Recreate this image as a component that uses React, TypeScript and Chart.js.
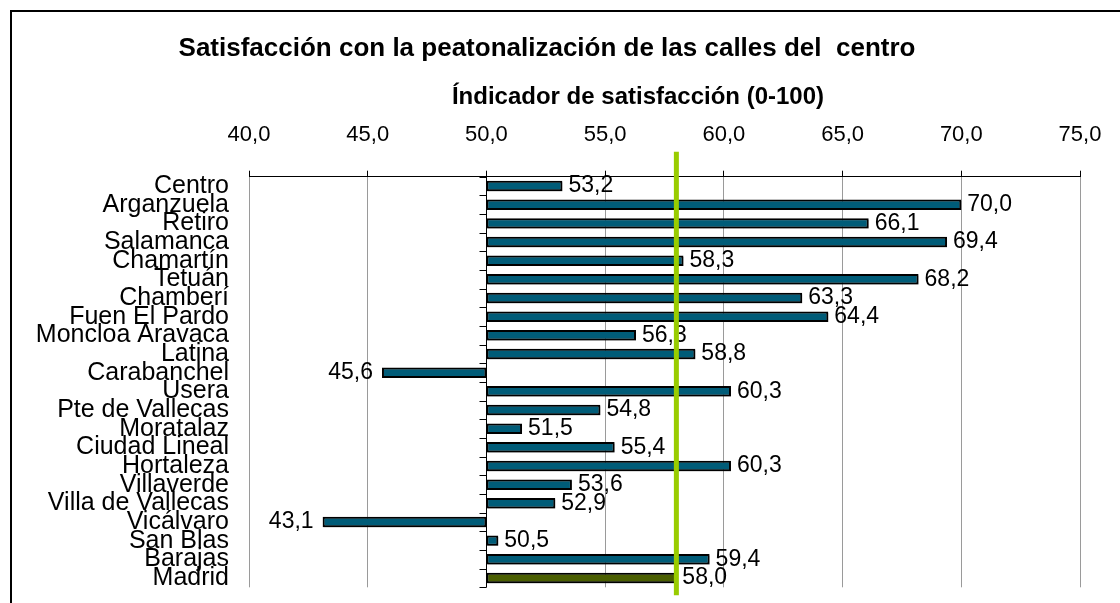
import React, { useEffect, useRef } from "react";
import { Chart, registerables } from "chart.js";

Chart.register(...registerables);

// ---- Data ----
const districts: string[] = [
  "Centro",
  "Arganzuela",
  "Retiro",
  "Salamanca",
  "Chamartín",
  "Tetuán",
  "Chamberí",
  "Fuen El Pardo",
  "Moncloa Aravaca",
  "Latina",
  "Carabanchel",
  "Usera",
  "Pte de Vallecas",
  "Moratalaz",
  "Ciudad Lineal",
  "Hortaleza",
  "Villaverde",
  "Villa de Vallecas",
  "Vicálvaro",
  "San Blas",
  "Barajas",
  "Madrid",
];

const satisfaction: number[] = [
  53.2, 70.0, 66.1, 69.4, 58.3, 68.2, 63.3, 64.4, 56.3, 58.8, 45.6, 60.3, 54.8,
  51.5, 55.4, 60.3, 53.6, 52.9, 43.1, 50.5, 59.4, 58.0,
];

const axisBase = 50;
const xTicks: number[] = [40, 45, 50, 55, 60, 65, 70, 75];
const referenceLabel = "Madrid";

const titleText = "Satisfacción con la peatonalización de las calles del  centro";
const subtitleText = "Índicador de satisfacción (0-100)";

const FONT = "'Liberation Sans', Arial, Helvetica, sans-serif";
const fmt = (v: number) => v.toFixed(1).replace(".", ",");

const districtColor = "#005C78";
const madridColor = "#4A5E00";
const averageColor = "#99CC00";

export default function App() {
  const canvasRef = useRef<HTMLCanvasElement | null>(null);

  useEffect(() => {
    const canvas = canvasRef.current;
    if (!canvas) return;

    const refIndex = districts.indexOf(referenceLabel);
    const averageValue = satisfaction[refIndex];

    const customPlugin = {
      id: "customDraw",
      beforeDatasetsDraw(chart: any) {
        const { ctx, chartArea, scales } = chart;
        const xx = Math.round(scales.x.getPixelForValue(axisBase)) + 0.5;
        ctx.save();
        ctx.strokeStyle = "#000";
        ctx.lineWidth = 1;
        ctx.beginPath();
        ctx.moveTo(xx, chartArea.top);
        ctx.lineTo(xx, chartArea.bottom);
        const n = chart.data.labels.length;
        for (let i = 0; i <= n; i++) {
          const y =
            Math.round(chartArea.top + (i * (chartArea.bottom - chartArea.top)) / n) + 0.5;
          ctx.moveTo(xx - 7, y);
          ctx.lineTo(xx, y);
        }
        ctx.stroke();
        ctx.restore();
      },
      beforeDatasetDraw(chart: any) {
        const { ctx } = chart;
        ctx.save();
        ctx.shadowColor = "rgba(0,0,0,0.35)";
        ctx.shadowOffsetX = 1;
        ctx.shadowOffsetY = 1.5;
        ctx.shadowBlur = 0;
      },
      afterDatasetDraw(chart: any) {
        chart.ctx.restore();
      },
      afterDatasetsDraw(chart: any) {
        const { ctx, chartArea, scales } = chart;
        const meta = chart.getDatasetMeta(0);
        ctx.save();
        ctx.font = `23px ${FONT}`;
        ctx.fillStyle = "#000";
        ctx.textBaseline = "middle";
        meta.data.forEach((el: any, i: number) => {
          const v = satisfaction[i];
          const px = scales.x.getPixelForValue(v);
          if (v >= axisBase) {
            ctx.textAlign = "left";
            ctx.fillText(fmt(v), px + 6, el.y);
          } else {
            ctx.textAlign = "right";
            ctx.fillText(fmt(v), px - 9, el.y);
          }
        });
        // average line
        const ax = scales.x.getPixelForValue(averageValue);
        ctx.strokeStyle = averageColor;
        ctx.lineWidth = 5;
        ctx.beginPath();
        ctx.moveTo(ax, chartArea.top - 25);
        ctx.lineTo(ax, chartArea.bottom + 8);
        ctx.stroke();
        ctx.restore();
      },
      afterDraw(chart: any) {
        const { ctx } = chart;
        ctx.save();
        ctx.font = `bold 24px ${FONT}`;
        ctx.fillStyle = "#000";
        ctx.textAlign = "center";
        ctx.textBaseline = "alphabetic";
        ctx.fillText(subtitleText, 638, 104);
        ctx.restore();
      },
    };

    const chart = new Chart(canvas, {
      type: "bar",
      data: {
        labels: districts,
        datasets: [
          {
            data: satisfaction.map((v) => [axisBase, v]) as any,
            backgroundColor: districts.map((d) =>
              d === referenceLabel ? madridColor : districtColor
            ),
            borderColor: "#000",
            borderWidth: 2,
            borderSkipped: false,
            categoryPercentage: 1,
            barPercentage: 0.56,
          },
        ],
      },
      options: {
        indexAxis: "y",
        responsive: false,
        animation: false,
        layout: { padding: { left: 14, right: 40, top: 0, bottom: 15.7 } },
        plugins: {
          legend: { display: false },
          tooltip: { enabled: false },
          title: {
            display: true,
            text: titleText,
            color: "#000",
            font: { family: FONT, size: 26, weight: "bold" },
            padding: { top: 33, bottom: 0 },
          },
        },
        scales: {
          x: {
            type: "linear",
            position: "top",
            min: xTicks[0],
            max: xTicks[xTicks.length - 1],
            afterBuildTicks(scale: any) {
              scale.ticks = xTicks.map((v) => ({ value: v }));
            },
            afterFit(scale: any) {
              scale.height = 112.5;
              scale.paddingLeft = 0;
              scale.paddingRight = 0;
            },
            ticks: {
              color: "#000",
              font: { family: FONT, size: 22 },
              padding: 23,
              maxRotation: 0,
              callback: (v: any) => fmt(Number(v)),
            },
            grid: {
              color: "#9A9A9A",
              tickColor: "#000",
              tickLength: 6,
              drawTicks: true,
              lineWidth: 1,
            },
            border: { display: true, color: "#000", width: 1 },
          },
          y: {
            type: "category",
            position: "left",
            afterFit(scale: any) {
              scale.width = 235;
              scale.paddingTop = 0;
              scale.paddingBottom = 0;
            },
            ticks: {
              color: "#000",
              font: { family: FONT, size: 25 },
              padding: 20,
              autoSkip: false,
            },
            grid: { display: false, drawTicks: false },
            border: { display: false },
          },
        },
      },
      plugins: [customPlugin],
    } as any);

    return () => chart.destroy();
  }, []);

  return (
    <div
      style={{
        position: "fixed",
        left: 0,
        top: 0,
        width: 1120,
        height: 603,
        overflow: "hidden",
        background: "#fff",
      }}
    >
      <div
        style={{
          position: "absolute",
          left: 10,
          top: 10,
          width: 1200,
          height: 700,
          border: "2px solid #000",
        }}
      />
      <canvas
        ref={canvasRef}
        width={1120}
        height={603}
        style={{ position: "absolute", left: 0, top: 0 }}
      />
    </div>
  );
}
